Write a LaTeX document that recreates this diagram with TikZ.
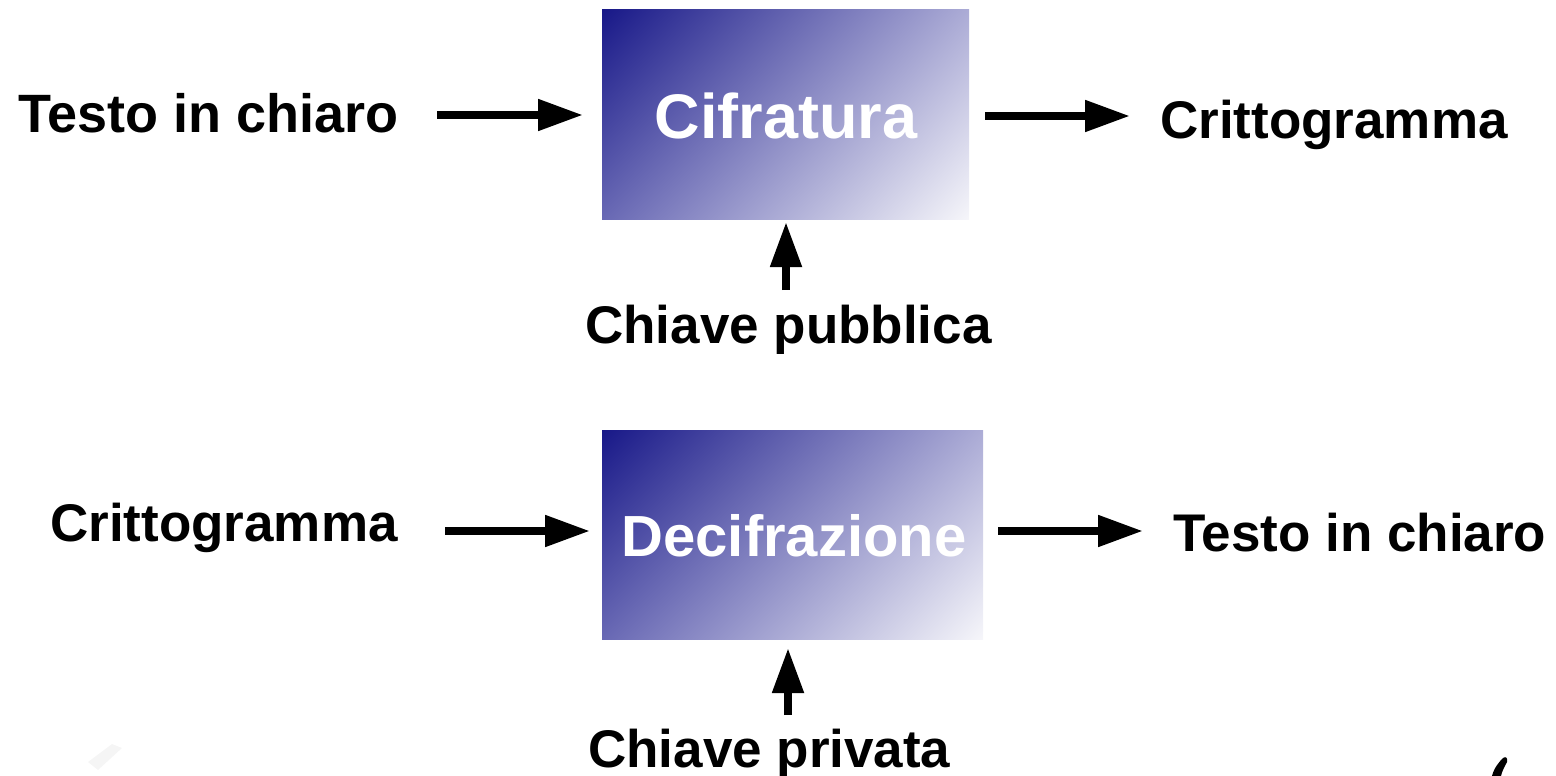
\documentclass[tikz,border=0pt]{standalone}
\usepackage{fontspec}
\setmainfont{Liberation Sans}
\usetikzlibrary{arrows.meta,shadings}
\definecolor{boxdark}{RGB}{24,24,136}
\definecolor{boxur}{RGB}{172,172,214}
\definecolor{boxll}{RGB}{104,104,180}
\definecolor{boxlr}{RGB}{246,246,250}
\tikzset{
  lbl/.style={inner sep=0pt, anchor=base west, font=\fontsize{53}{60}\selectfont\bfseries},
  boxtxt/.style={inner sep=0pt, anchor=base, text=white},
  gradbox/.style={upper left=boxdark, upper right=boxur, lower left=boxll, lower right=boxlr},
  arr/.style={line width=8pt, -{Triangle[length=45pt,width=30pt]}},
}
\begin{document}
\begin{tikzpicture}[x=1pt,y=-1pt]
\useasboundingbox (0,0) rectangle (1556,776);
% boxes
\shade[gradbox] (602,10) rectangle (969,219);
\node[inner sep=0pt, minimum width=367pt, minimum height=209pt] (c1) at (785.5,114.5) {};
\shade[gradbox] (602,430) rectangle (983,639);
\node[inner sep=0pt, minimum width=381pt, minimum height=209pt] (c2) at (792.5,534.5) {};
\node[boxtxt, font=\fontsize{63}{70}\selectfont\bfseries] (c1t) at (786,138) {Cifratura};
\node[boxtxt, font=\fontsize{58}{64}\selectfont\bfseries] (c2t) at (794,556) {Decifrazione};
% labels
\node[lbl, font=\fontsize{54}{60}\selectfont\bfseries] (t1) at (18,132) {Testo in chiaro};
\node[lbl] (k1) at (1160,138) {Crittogramma};
\node[lbl] (p1) at (585,343) {Chiave pubblica};
\node[lbl] (k2) at (50,541) {Crittogramma};
\node[lbl] (t2) at (1173,551) {Testo in chiaro};
\node[lbl] (p2) at (588,767) {Chiave privata};
% arrows
\coordinate (a1s) at (437,115); \coordinate (a1e) at (583,115);
\coordinate (a2s) at (985,116); \coordinate (a2e) at (1130,116);
\coordinate (a3s) at (786,290); \coordinate (a3e) at (786,222);
\coordinate (a4s) at (445,531); \coordinate (a4e) at (590,531);
\coordinate (a5s) at (998,531); \coordinate (a5e) at (1143,531);
\coordinate (a6s) at (788,715); \coordinate (a6e) at (788,648);
\draw[arr] (a1s) -- (a1e);
\draw[arr] (a2s) -- (a2e);
\draw[arr] (a3s) -- (a3e);
\draw[arr] (a4s) -- (a4e);
\draw[arr] (a5s) -- (a5e);
\draw[arr] (a6s) -- (a6e);
% stray marks
\fill[black] (1492,776) .. controls (1494,768) and (1499,762) .. (1503,758)
  .. controls (1506,756) and (1508,758) .. (1507,762)
  .. controls (1505,766) and (1502,771) .. (1501,776) -- cycle;
\fill[black!4] (88,762) -- (112,744) -- (122,748) -- (98,770) -- cycle;
\end{tikzpicture}
\end{document}
